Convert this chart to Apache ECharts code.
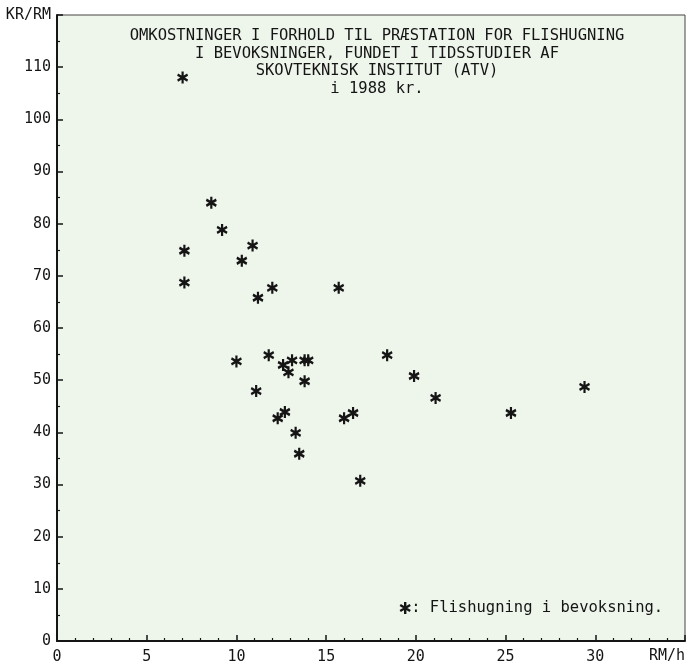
<!DOCTYPE html>
<html>
<head>
<meta charset="utf-8">
<script src="https://cdn.jsdelivr.net/npm/echarts@6/dist/echarts.min.js"></script>
<style>
html,body{margin:0;padding:0;background:#ffffff;}
#chart{width:688px;height:665px;}
</style>
</head>
<body>
<div id="chart"></div>
<script>
// Data
var xValues = [8.6, 9.2, 7.1, 10.9, 10.3, 7.1, 12.0, 11.2, 15.7, 10.0, 11.8, 12.6, 12.9, 13.1, 13.8, 14.0, 13.8, 11.1, 12.3, 12.7, 13.3, 13.5, 18.4, 19.9, 21.1, 16.0, 16.5, 16.9, 25.3, 29.4, 7.0];
var yValues = [84.0, 78.8, 74.8, 75.8, 72.9, 68.7, 67.7, 65.8, 67.7, 53.6, 54.8, 52.9, 51.5, 53.8, 53.8, 53.8, 49.8, 47.9, 42.7, 43.9, 39.9, 35.9, 54.8, 50.8, 46.6, 42.7, 43.7, 30.7, 43.7, 48.7, 108.0];
var titleLines = [
  'OMKOSTNINGER I FORHOLD TIL PRÆSTATION FOR FLISHUGNING',
  'I BEVOKSNINGER, FUNDET I TIDSSTUDIER AF',
  'SKOVTEKNISK INSTITUT (ATV)',
  'i 1988 kr.'
];
var seriesName = 'Flishugning i bevoksning.';
var xAxisName = 'RM/h';
var yAxisName = 'KR/RM';
var xTickMax = 35;
var yTickMax = 120;

var points = xValues.map(function (x, i) { return [x, yValues[i]]; });

var FONT = 'DejaVu Sans Mono';
var INK = '#151515';
var STAR = 'path://M5,0L5,12M0,3L10,9M0,9L10,3';

var chart = echarts.init(document.getElementById('chart'), null, {renderer: 'canvas'});
chart.setOption({
  backgroundColor: '#ffffff',
  animation: false,
  title: {
    text: titleLines.join('\n'),
    left: 372,
    top: 22,
    textAlign: 'center',
    textStyle: {
      fontFamily: FONT,
      fontSize: 15.5,
      fontWeight: 'normal',
      color: INK,
      lineHeight: 17.7
    }
  },
  legend: {
    left: 394,
    top: 595,
    data: [{name: seriesName, icon: STAR}],
    itemWidth: 10,
    itemHeight: 12,
    itemStyle: {color: INK, borderColor: INK, borderWidth: 2.4},
    formatter: function (name) { return ': ' + name; },
    textStyle: {fontFamily: FONT, fontSize: 15.5, color: INK, padding: [0, 0, 0, -4]}
  },
  grid: {
    left: 57,
    right: 3,
    top: 15,
    bottom: 22,
    show: true,
    backgroundColor: '#eef5eb',
    borderColor: '#444444',
    borderWidth: 1
  },
  xAxis: {
    type: 'value',
    min: 0,
    max: xTickMax,
    interval: 5,
    name: xAxisName,
    nameLocation: 'end',
    nameGap: 0,
    nameTextStyle: {
      fontFamily: FONT, fontSize: 15, color: INK,
      align: 'right', verticalAlign: 'top', padding: [8, 0, 0, 0]
    },
    axisLine: {show: true, onZero: false, lineStyle: {color: INK, width: 2}},
    axisTick: {show: true, inside: true, length: 6, lineStyle: {color: INK, width: 1.5}},
    minorTick: {show: true, splitNumber: 5, length: 3, lineStyle: {color: INK, width: 1.2}},
    splitLine: {show: false},
    axisLabel: {
      margin: 9,
      fontFamily: FONT, fontSize: 15, color: INK,
      formatter: function (v) { return v === xTickMax ? '' : String(v); }
    }
  },
  yAxis: {
    type: 'value',
    min: 0,
    max: yTickMax,
    interval: 10,
    axisLine: {show: true, onZero: false, lineStyle: {color: INK, width: 2}},
    axisTick: {show: true, inside: true, length: 6, lineStyle: {color: INK, width: 1.5}},
    minorTick: {show: true, splitNumber: 2, length: 3, lineStyle: {color: INK, width: 1.2}},
    splitLine: {show: false},
    axisLabel: {
      margin: 6,
      fontFamily: FONT, fontSize: 15, color: INK,
      formatter: function (v) { return v === yTickMax ? yAxisName : String(v); }
    }
  },
  series: [{
    name: seriesName,
    type: 'scatter',
    data: points,
    symbol: STAR,
    symbolSize: [10, 12],
    itemStyle: {color: INK, borderColor: INK, borderWidth: 2.4, opacity: 1},
    emphasis: {disabled: true}
  }]
});
</script>
</body>
</html>
